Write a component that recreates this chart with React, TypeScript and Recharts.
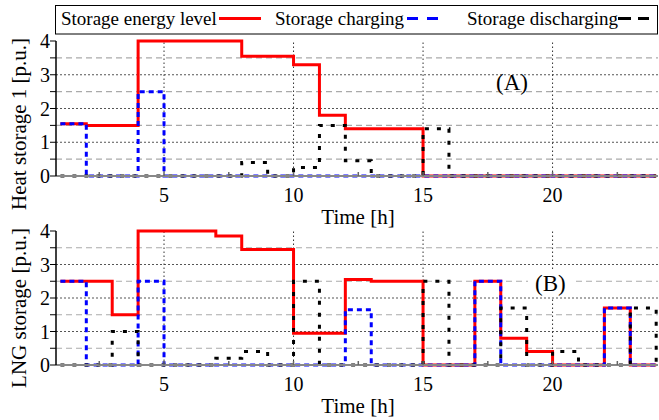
import React from 'react';
import { LineChart, Line, XAxis, YAxis, ReferenceLine } from 'recharts';

// hour index (value holds from h to h+1, last point closes the step at 24)
const hours = [1, 2, 3, 4, 5, 6, 7, 8, 9, 10, 11, 12, 13, 14, 15, 16, 17, 18, 19, 20, 21, 22, 23, 24];

// (A) heat storage 1
const heatLevel = [1.55, 1.5, 1.5, 4, 4, 4, 4, 3.55, 3.55, 3.3, 1.8, 1.4, 1.4, 1.4, 0, 0, 0, 0, 0, 0, 0, 0, 0, 0];
const heatCharge = [1.55, 0, 0, 2.5, 0, 0, 0, 0, 0, 0, 0, 0, 0, 0, 0, 0, 0, 0, 0, 0, 0, 0, 0, 0];
const heatDischarge = [0, 0, 0, 0, 0, 0, 0, 0.4, 0, 0.25, 1.5, 0.45, 0, 0, 1.4, 0, 0, 0, 0, 0, 0, 0, 0, 0];

// (B) LNG storage
const lngLevel = [2.5, 2.5, 1.5, 4, 4, 4, 3.85, 3.45, 3.45, 0.95, 0.95, 2.55, 2.5, 2.5, 0, 0, 2.5, 0.8, 0.4, 0, 0, 1.7, 0, 0];
const lngCharge = [2.5, 0, 0, 2.5, 0, 0, 0, 0, 0, 0, 0, 1.65, 0, 0, 0, 0, 2.5, 0, 0, 0, 0, 1.7, 0, 0];
const lngDischarge = [0, 0, 1.0, 0, 0, 0, 0.2, 0.4, 0, 2.5, 0, 0, 0, 0, 2.5, 0, 0, 1.7, 0, 0.4, 0, 0, 1.7, 0];

const xTicks = [2.5, 5, 7.5, 10, 12.5, 15, 17.5, 20, 22.5];
const xGrid = [5, 10, 15, 20];
const yTicks = [0, 0.5, 1, 1.5, 2, 2.5, 3, 3.5, 4];
const yGridMajor = [1, 2, 3];
const yGridMinor = [0.5, 1.5, 2.5, 3.5];

const FONT = '"Liberation Serif", "Times New Roman", serif';

const buildRows = (level: number[], charge: number[], discharge: number[]) =>
  hours.map((h, i) => ({ h, level: level[i], charge: charge[i], discharge: discharge[i] }));

const BottomTick = ({ x, y, payload }: any) => (
  <g>
    <line x1={x} x2={x} y1={y} y2={y - 4} stroke="#666" strokeWidth={1.5} />
    {payload.value % 5 === 0 && (
      <text x={x} y={y + 26} textAnchor="middle" fontFamily={FONT} fontSize={20} fill="#000">
        {payload.value}
      </text>
    )}
  </g>
);

const TopTick = ({ x, y }: any) => (
  <line x1={x} x2={x} y1={y} y2={y + 4} stroke="#666" strokeWidth={1.5} />
);

const LeftTick = ({ x, y, payload }: any) => (
  <g>
    <line x1={x - 6} x2={x} y1={y} y2={y} stroke="#000" strokeWidth={1} />
    {Number.isInteger(payload.value) && (
      <text x={x - 6} y={y + 7} textAnchor="end" fontFamily={FONT} fontSize={20} fill="#000">
        {payload.value}
      </text>
    )}
  </g>
);

interface PanelProps {
  rows: { h: number; level: number; charge: number; discharge: number }[];
  top: number;
  height: number;
  marginBottom: number;
}

function Panel({ rows, top, height, marginBottom }: PanelProps) {
  return (
    <div style={{ position: 'absolute', left: 0, top }}>
      <LineChart width={659} height={height} data={rows} margin={{ top: 41, right: 1, bottom: marginBottom, left: 0 }}>
        <XAxis
          dataKey="h"
          type="number"
          domain={[0.83, 24.07]}
          allowDataOverflow
          ticks={xTicks}
          tickSize={0}
          tickMargin={0}
          tickLine={false}
          tick={<BottomTick />}
          height={30}
          axisLine={{ stroke: '#888', strokeWidth: 2 }}
          interval={0}
        />
        <XAxis
          xAxisId="top"
          dataKey="h"
          orientation="top"
          type="number"
          domain={[0.83, 24.07]}
          allowDataOverflow
          ticks={xTicks}
          tickSize={0}
          tickMargin={0}
          tickLine={false}
          tick={<TopTick />}
          height={0}
          axisLine={{ stroke: '#555', strokeWidth: 1.5 }}
          interval={0}
        />
        <YAxis
          type="number"
          domain={[0, 4]}
          ticks={yTicks}
          tickSize={0}
          tickMargin={0}
          tickLine={false}
          tick={<LeftTick />}
          width={56}
          axisLine={{ stroke: '#000', strokeWidth: 1.5 }}
          interval={0}
        />
        {yGridMinor.map((v) => (
          <ReferenceLine key={`mn${v}`} y={v} stroke="#aaa" strokeWidth={1.2} strokeDasharray="6 4" />
        ))}
        {yGridMajor.map((v) => (
          <ReferenceLine key={`mj${v}`} y={v} stroke="#555" strokeWidth={1} strokeDasharray="2 2" />
        ))}
        {xGrid.map((v) => (
          <ReferenceLine key={`xg${v}`} x={v} stroke="#333" strokeWidth={1} strokeDasharray="1.5 2.5" />
        ))}
        <Line type="stepAfter" dataKey="level" stroke="#ff0000" strokeWidth={3} dot={false} isAnimationActive={false} />
        <Line type="stepAfter" dataKey="charge" stroke="#0000ff" strokeWidth={3} strokeDasharray="5 4" dot={false} isAnimationActive={false} />
        <Line type="stepAfter" dataKey="discharge" stroke="#000" strokeWidth={3} strokeDasharray="4 8" dot={false} isAnimationActive={false} />
      </LineChart>
    </div>
  );
}

export default function App() {
  const heatRows = buildRows(heatLevel, heatCharge, heatDischarge);
  const lngRows = buildRows(lngLevel, lngCharge, lngDischarge);

  return (
    <div style={{ position: 'absolute', left: 0, top: 0, width: 659, height: 420, background: '#fff', overflow: 'hidden' }}>
      <Panel rows={heatRows} top={0} height={222} marginBottom={16} />
      <Panel rows={lngRows} top={190} height={230} marginBottom={25} />
      <svg width={659} height={420} style={{ position: 'absolute', left: 0, top: 0, pointerEvents: 'none' }} fontFamily={FONT}>
        {/* legend */}
        <rect x={55.5} y={5.5} width={602} height={28.5} fill="#fff" stroke="#000" strokeWidth={1} />
        <text x={61} y={25} fontSize={19}>Storage energy level</text>
        <line x1={219} x2={261} y1={18.5} y2={18.5} stroke="#ff0000" strokeWidth={3} />
        <text x={275} y={25} fontSize={19}>Storage charging</text>
        <line x1={407} x2={439} y1={18.5} y2={18.5} stroke="#0000ff" strokeWidth={3} strokeDasharray="11 9" />
        <text x={467} y={25} fontSize={19}>Storage discharging</text>
        <line x1={618} x2={649} y1={18.5} y2={18.5} stroke="#000" strokeWidth={3} strokeDasharray="13 7" />

        {/* axis titles */}
        <text x={358} y={224} fontSize={21} textAnchor="middle">Time [h]</text>
        <text x={358} y={413} fontSize={21} textAnchor="middle">Time [h]</text>
        <text x={26} y={124} fontSize={21} textAnchor="middle" transform="rotate(-90 26 124)">Heat storage 1 [p.u.]</text>
        <text x={26} y={308} fontSize={21} textAnchor="middle" transform="rotate(-90 26 308)">LNG storage [p.u.]</text>

        {/* panel tags */}
        <text x={496} y={90} fontSize={23}>(A)</text>
        <rect x={528} y={271} width={48} height={26} fill="#fff" />
        <text x={535} y={291} fontSize={23}>(B)</text>
      </svg>
    </div>
  );
}
